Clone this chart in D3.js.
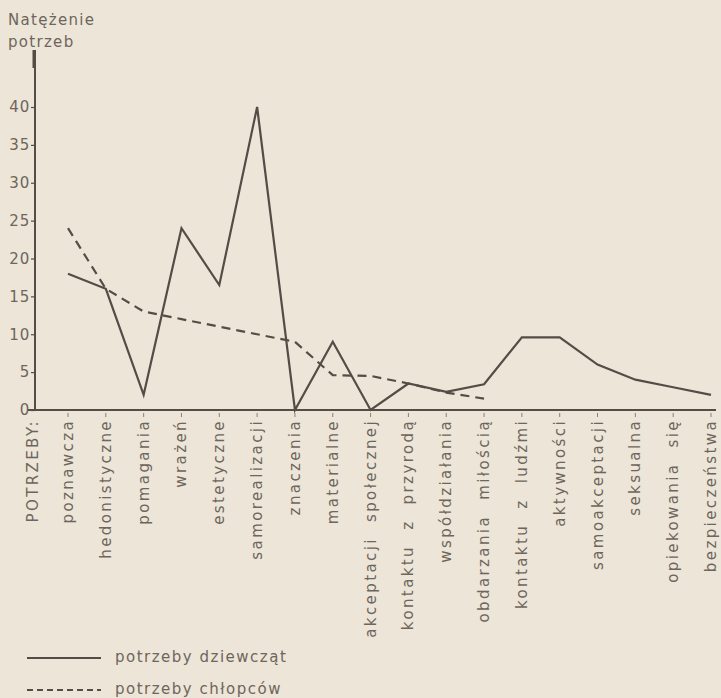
<!DOCTYPE html>
<html>
<head>
<meta charset="utf-8">
<script src="https://cdn.jsdelivr.net/npm/d3@7"></script>
<style>
  body { margin: 0; background: #ece5d8; }
  svg { display: block; }
  text { font-family: 'DejaVu Sans', sans-serif; fill: #6e655c; }
</style>
</head>
<body>
<div id="chart"></div>
<script>
const categories = [
  'poznawcza', 'hedonistyczne', 'pomagania', 'wrażeń', 'estetyczne',
  'samorealizacji', 'znaczenia', 'materialne', 'akceptacji społecznej',
  'kontaktu z przyrodą', 'współdziałania', 'obdarzania miłością',
  'kontaktu z ludźmi', 'aktywności', 'samoakceptacji', 'seksualna',
  'opiekowania się', 'bezpieczeństwa'
];

// potrzeby dziewcząt (solid)
const girls = [18, 16, 2, 24, 16.5, 40, 0, 9, 0, 3.5, 2.4, 3.4, 9.6, 9.6, 6, 4, 3, 2];
// potrzeby chłopców (dashed), only first 12 categories
const boys = [24, 16, 13, 12, 11, 10, 9, 4.6, 4.5, 3.5, 2.3, 1.5];

const yTicks = [0, 5, 10, 15, 20, 25, 30, 35, 40];

const width = 721;
const height = 698;
const ink = '#564c45';

const svg = d3.select('#chart')
  .append('svg')
  .attr('width', width)
  .attr('height', height);

const xScale = d3.scalePoint().domain(categories).range([68, 711]);
const yScale = d3.scaleLinear().domain([0, 40]).range([410, 107]);

// y axis title
svg.append('text').attr('x', 8).attr('y', 25)
  .style('font-size', '15px').style('letter-spacing', '1.3px').text('Natężenie');
svg.append('text').attr('x', 8).attr('y', 47)
  .style('font-size', '15px').style('letter-spacing', '1.3px').text('potrzeb');

// axes
svg.append('line')
  .attr('x1', 35).attr('x2', 35)
  .attr('y1', 50).attr('y2', yScale(0))
  .attr('stroke', ink).attr('stroke-width', 2);
svg.append('line')
  .attr('x1', 34).attr('x2', 34)
  .attr('y1', 50).attr('y2', 68)
  .attr('stroke', ink).attr('stroke-width', 3);
svg.append('line')
  .attr('x1', 28).attr('x2', 716)
  .attr('y1', yScale(0)).attr('y2', yScale(0))
  .attr('stroke', ink).attr('stroke-width', 2);

const yAxis = d3.axisLeft(yScale).tickValues(yTicks).tickSize(4).tickPadding(1);
const gy = svg.append('g').attr('transform', 'translate(35,0)').call(yAxis);
gy.select('.domain').remove();
gy.selectAll('line').attr('stroke', ink).attr('stroke-width', 1.2);
gy.selectAll('text')
  .style('font-size', '15px')
  .style('letter-spacing', '0.8px')
  .style('font-family', "'DejaVu Sans', sans-serif")
  .attr('fill', '#6e655c');

// category ticks and labels
const gx = svg.append('g');
gx.selectAll('line')
  .data(categories)
  .join('line')
  .attr('x1', (d) => xScale(d)).attr('x2', (d) => xScale(d))
  .attr('y1', yScale(0) + 3).attr('y2', yScale(0) + 7)
  .attr('stroke', '#8a8077').attr('stroke-width', 1);

gx.selectAll('text')
  .data(['POTRZEBY:', ...categories])
  .join('text')
  .attr('transform', (d, i) => {
    const x = i === 0 ? 33 : xScale(d);
    return `translate(${x + 5},419) rotate(-90)`;
  })
  .attr('text-anchor', 'end')
  .style('font-size', '15px')
  .style('letter-spacing', '2.4px')
  .style('word-spacing', '8px')
  .text((d) => d);

// lines
const line = d3.line()
  .x((d, i) => xScale(categories[i]))
  .y((d) => yScale(d));

svg.append('path')
  .datum(girls)
  .attr('d', line)
  .attr('fill', 'none')
  .attr('stroke', ink)
  .attr('stroke-width', 2.2)
  .attr('stroke-linejoin', 'miter');

svg.append('path')
  .datum(boys)
  .attr('d', line)
  .attr('fill', 'none')
  .attr('stroke', ink)
  .attr('stroke-width', 2.2)
  .attr('stroke-dasharray', '9,6');

// legend
const legend = [
  { label: 'potrzeby dziewcząt', dash: null, y: 658 },
  { label: 'potrzeby chłopców', dash: '6,4', y: 690 }
];
const lg = svg.append('g');
lg.selectAll('line')
  .data(legend)
  .join('line')
  .attr('x1', 27).attr('x2', 101)
  .attr('y1', (d) => d.y).attr('y2', (d) => d.y)
  .attr('stroke', ink).attr('stroke-width', 2)
  .attr('stroke-dasharray', (d) => d.dash);
lg.selectAll('text')
  .data(legend)
  .join('text')
  .attr('x', 115)
  .attr('y', (d) => d.y + 4)
  .style('font-size', '15px')
  .style('letter-spacing', '1.5px')
  .text((d) => d.label);
</script>
</body>
</html>
